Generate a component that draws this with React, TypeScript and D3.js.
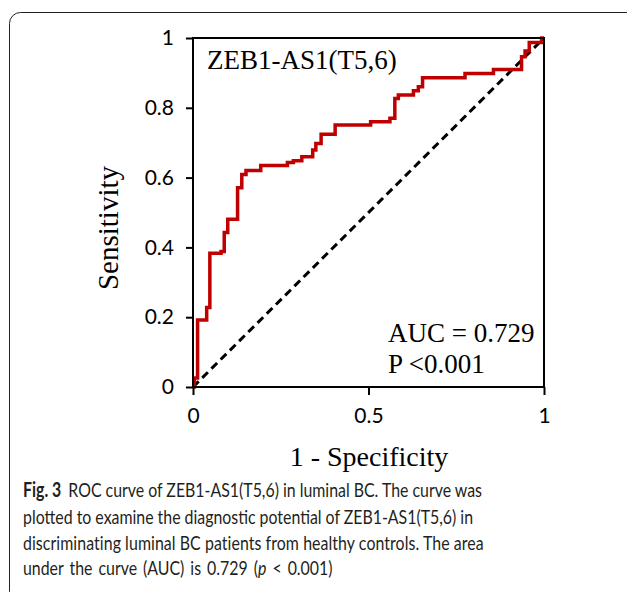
import React, { useEffect, useRef } from 'react'
import { select, scaleLinear, axisLeft, axisBottom, line, curveStepAfter } from 'd3'

// ROC points (top corner of each step)
const fpr = [0, 0.004, 0.013, 0.039, 0.048, 0.08, 0.089, 0.099, 0.127, 0.139, 0.151, 0.193, 0.269, 0.286, 0.31, 0.341, 0.35, 0.365, 0.405, 0.506, 0.561, 0.575, 0.585, 0.628, 0.642, 0.654, 0.775, 0.856, 0.936, 0.946, 0.958, 0.993, 1]
const tpr = [0, 0.026, 0.192, 0.228, 0.383, 0.388, 0.443, 0.481, 0.571, 0.609, 0.62, 0.635, 0.643, 0.648, 0.66, 0.679, 0.698, 0.724, 0.751, 0.76, 0.77, 0.827, 0.837, 0.849, 0.86, 0.886, 0.898, 0.91, 0.946, 0.963, 0.987, 1, 1]
const yTicks = [0, 0.2, 0.4, 0.6, 0.8, 1]
const xTicks = [0, 0.5, 1]

const title = 'ZEB1-AS1(T5,6)'
const aucText = 'AUC = 0.729'
const pText = 'P <0.001'
const captionLines = [
  'plotted to examine the diagnostic potential of ZEB1-AS1(T5,6) in',
  'discriminating luminal BC patients from healthy controls. The area',
]

const W = 627
const H = 592
const left = 193
const right = 544
const top = 38
const bottom = 387

function App() {
  const svgRef = useRef(null)

  const x = scaleLinear().domain([0, 1]).range([left, right])
  const y = scaleLinear().domain([0, 1]).range([bottom, top])

  const points = fpr.map((f, i) => [f, tpr[i]])
  const roc = line()
    .x(d => x(d[0]))
    .y(d => y(d[1]))
    .curve(curveStepAfter)(points)

  useEffect(() => {
    const svg = select(svgRef.current)
    const fmt = d => String(d)

    const yAxis = axisLeft(y).tickValues(yTicks).tickSize(7).tickPadding(12).tickFormat(fmt)
    svg.select('.y-axis').attr('transform', `translate(${left}, 0)`).call(yAxis)

    const xAxis = axisBottom(x).tickValues(xTicks).tickSize(8).tickPadding(13).tickFormat(fmt)
    svg.select('.x-axis').attr('transform', `translate(0, ${bottom})`).call(xAxis)

    svg.selectAll('.domain').remove()
    svg.selectAll('.tick line').attr('stroke', '#000').attr('stroke-width', 2)
    svg.selectAll('.tick text')
      .attr('fill', '#000')
      .style('font-family', 'Lato, Carlito, sans-serif')
      .style('font-size', '21px')

    // the caption face is condensed: squeeze the caption so line 1 spans the same width
    const first = svg.select('.cap-first').node()
    const natural = first.getBBox().width
    const sx = 459 / natural
    svg.select('.caption').attr('transform', `translate(23, 0) scale(${sx}, 1)`)
  }, [])

  const serif = '"Liberation Serif", "Times New Roman", serif'
  const capFont = 'Lato, "Open Sans", sans-serif'

  return (
    <svg ref={svgRef} width={W} height={H} style={{ position: 'absolute', left: 0, top: 0 }}>
      <rect x={9.5} y={12.5} width={650} height={590} rx={11} fill="none" stroke="#222" strokeWidth={1} />

      <line x1={x(0)} y1={y(0)} x2={x(1)} y2={y(1)} stroke="#000" strokeWidth={3} strokeDasharray="8,5" />
      <path d={roc} fill="none" stroke="#c00000" strokeWidth={3.5} strokeLinejoin="miter" />

      <rect x={left} y={top} width={right - left} height={bottom - top} fill="none" stroke="#000" strokeWidth={2} />
      <g className="y-axis" />
      <g className="x-axis" />

      <text x={207} y={69} fontFamily={serif} fontSize={27}>{title}</text>
      <text x={388} y={342} fontFamily={serif} fontSize={27}>{aucText}</text>
      <text x={388} y={373} fontFamily={serif} fontSize={27}>{pText}</text>

      <text x={369} y={466} textAnchor="middle" fontFamily={serif} fontSize={28}>1 - Specificity</text>
      <text transform="translate(118, 228) rotate(-90)" textAnchor="middle" fontFamily={serif} fontSize={29}>Sensitivity</text>

      <g className="caption" transform="translate(23, 0) scale(0.9, 1)" fill="#231f20" fontFamily={capFont} fontSize={20}>
        <text className="cap-first" x={0} y={497}>
          <tspan fontWeight="bold">Fig. 3</tspan>
          <tspan dx={9}>ROC curve of ZEB1-AS1(T5,6) in luminal BC. The curve was</tspan>
        </text>
        <text x={0} y={524}>{captionLines[0]}</text>
        <text x={0} y={550} letterSpacing={0.1}>{captionLines[1]}</text>
        <text x={0} y={575} wordSpacing={2.5}>
          under the curve (AUC) is 0.729 (<tspan fontStyle="italic">p</tspan>{' < 0.001)'}
        </text>
      </g>
    </svg>
  )
}

export default App
